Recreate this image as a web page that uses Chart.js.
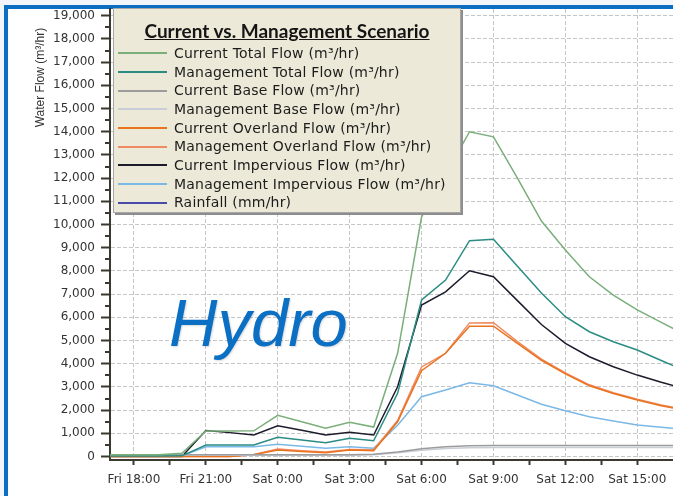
<!DOCTYPE html>
<html>
<head>
<meta charset="utf-8">
<script src="https://cdn.jsdelivr.net/npm/chart.js@4/dist/chart.umd.min.js"></script>
<style>
  html, body { margin:0; padding:0; width:673px; height:496px; overflow:hidden; background:#f2f6fa; }
  #frame { position:absolute; left:4px; top:5px; width:700px; height:520px;
           border-left:4px solid #0a6fc2; border-top:4px solid #0a6fc2; background:#ffffff; }
  #chart { position:absolute; left:0; top:0; }
  #legend { position:absolute; left:113px; top:8px; width:346px; height:203px;
            background:#ece9d8; border:1px solid #a6a6a6; box-shadow:2px 2px 0 #8e8e8e; }
  #ltitle { position:absolute; left:0; right:0; top:11px; text-align:center;
            font:bold 19px Lato, "DejaVu Sans", sans-serif; line-height:22px;
            text-decoration:underline; color:#151515; }
  #legendItems { position:absolute; left:4px; top:35px; }
  .row { display:flex; align-items:center; height:18.67px; }
  .sw { display:inline-block; width:49px; height:2px; margin-right:7px; }
  .tx { font:14px "DejaVu Sans", sans-serif; letter-spacing:0.2px; line-height:18.67px;
        color:#1c1c1c; white-space:nowrap; }
  #hydro { position:absolute; left:169px; top:289px; font:italic 67px "Liberation Sans", Arial, sans-serif;
           line-height:67px; color:#0b6fc4; text-shadow:1px 1px 2px rgba(0,0,0,0.15); }
</style>
</head>
<body>
<div id="frame"></div>
<canvas id="chart" width="673" height="496"></canvas>
<div id="legend"><div id="ltitle">Current vs. Management Scenario</div><div id="legendItems"></div></div>
<div id="hydro">Hydro</div>
<script>
// ---- data (hours measured from Friday 0:00) ----
const hours = [17,18,19,20,21,22,23,24,25,26,27,28,29,30,31,32,33,34,35,36,37,38,39,40,41];

const currentTotal        = [80,80,80,140,1100,1105,1110,1775,1495,1215,1474,1271,4450,10330,12150,14000,13780,12000,10150,8900,7750,6960,6320,5780,5250];
const managementTotal     = [20,20,20,30,496,496,500,827,711,595,784,681,2724,6745,7607,9303,9360,8200,7050,6025,5380,4950,4590,4140,3700];
const currentBase         = [80,80,80,80,80,80,80,80,80,80,80,100,200,330,420,460,470,470,470,470,470,470,470,470,470];
const managementBase      = [60,60,60,60,60,60,60,60,60,60,60,80,160,270,350,380,390,390,390,390,390,390,390,390,390];
const currentOverland     = [0,0,0,0,0,0,80,280,220,164,280,250,1500,3700,4450,5620,5620,4880,4150,3560,3050,2720,2440,2190,1990];
const managementOverland  = [0,0,0,0,0,0,90,320,250,190,300,290,1550,3860,4450,5760,5770,4950,4200,3600,3090,2750,2470,2220,2020];
const currentImpervious   = [0,0,0,0,1120,1030,927,1328,1130,927,1043,927,3009,6530,7100,8008,7750,6720,5690,4880,4300,3870,3510,3200,2920];
const managementImpervious= [20,20,20,20,422,422,422,525,440,353,422,353,1350,2578,2866,3181,3052,2650,2250,1974,1715,1530,1358,1260,1180];
const rainfall            = [];

const xMajorHours = [18,21,24,27,30,33,36,39];
const xMinorHours = [19.5,22.5,25.5,28.5,31.5,34.5,37.5];
const xTickLabels = ['Fri 18:00','Fri 21:00','Sat 0:00','Sat 3:00','Sat 6:00','Sat 9:00','Sat 12:00','Sat 15:00'];
const yTickValues = [0,1000,2000,3000,4000,5000,6000,7000,8000,9000,10000,11000,12000,13000,14000,15000,16000,17000,18000,19000];
const yMinorTicks = [500,1500,2500,3500,4500,5500,6500,7500,8500,9500,10500,11500,12500,13500,14500,15500,16500,17500,18500];
const yTitle = 'Water Flow (m³/hr)';

const toPoints = ys => ys.map((y, i) => ({ x: hours[i], y }));

const datasets = [
  { label:'Current Total Flow (m³/hr)',        data: toPoints(currentTotal),         borderColor:'#7aae7a' },
  { label:'Management Total Flow (m³/hr)',     data: toPoints(managementTotal),      borderColor:'#2b8c84' },
  { label:'Current Base Flow (m³/hr)',         data: toPoints(currentBase),          borderColor:'#9c9c9c' },
  { label:'Management Base Flow (m³/hr)',      data: toPoints(managementBase),       borderColor:'#c9cdd6' },
  { label:'Current Overland Flow (m³/hr)',     data: toPoints(currentOverland),      borderColor:'#e9731e' },
  { label:'Management Overland Flow (m³/hr)',  data: toPoints(managementOverland),   borderColor:'#ef8b62' },
  { label:'Current Impervious Flow (m³/hr)',   data: toPoints(currentImpervious),    borderColor:'#1b1b2b' },
  { label:'Management Impervious Flow (m³/hr)',data: toPoints(managementImpervious), borderColor:'#7ab9e6' },
  { label:'Rainfall (mm/hr)',                  data: toPoints(rainfall),             borderColor:'#4a4aa8' }
];

const AXIS = '#3b382f';
const GRID = '#c6c6c6';

const decor = {
  id: 'decor',
  afterDraw(chart) {
    const { ctx } = chart;
    const y = chart.scales.y;
    ctx.save();
    ctx.strokeStyle = AXIS; ctx.lineWidth = 2;
    yMinorTicks.forEach(v => {
      const py = Math.round(y.getPixelForValue(v));
      ctx.beginPath(); ctx.moveTo(y.right - 5, py); ctx.lineTo(y.right, py); ctx.stroke();
    });
    ctx.translate(41, 77.5);
    ctx.rotate(-Math.PI / 2);
    ctx.font = '12px "Liberation Sans", Arial, sans-serif';
    ctx.fillStyle = '#333333';
    ctx.textAlign = 'center'; ctx.textBaseline = 'middle';
    ctx.fillText(yTitle, 0, 0);
    ctx.restore();
  }
};

const htmlLegend = {
  id: 'htmlLegend',
  afterUpdate(chart) {
    const box = document.getElementById('legendItems');
    box.innerHTML = '';
    chart.data.datasets.forEach(ds => {
      const row = document.createElement('div'); row.className = 'row';
      const sw = document.createElement('span'); sw.className = 'sw'; sw.style.background = ds.borderColor;
      const tx = document.createElement('span'); tx.className = 'tx'; tx.textContent = ds.label;
      row.append(sw, tx); box.append(row);
    });
  }
};

new Chart(document.getElementById('chart'), {
  type: 'line',
  data: { datasets },
  options: {
    responsive: false,
    animation: false,
    layout: { padding: { top: 9, left: 0, right: 0, bottom: 0 } },
    elements: { point: { radius: 0 }, line: { borderWidth: 1.5, tension: 0 } },
    plugins: { legend: { display: false }, tooltip: { enabled: false } },
    scales: {
      x: {
        type: 'linear', min: 17, max: 40.49,
        afterBuildTicks: s => { s.ticks = xMajorHours.concat(xMinorHours).sort((a,b)=>a-b).map(v => ({ value: v })); },
        afterFit: s => { s.height = 36; s.paddingLeft = 0; s.paddingRight = 0; },
        ticks: {
          autoSkip: false, maxRotation: 0, padding: 8, color: '#333333',
          font: { family: 'DejaVu Sans', size: 12 },
          callback: v => { const i = xMajorHours.indexOf(v); return i >= 0 ? xTickLabels[i] : ''; }
        },
        grid: {
          color: c => (c.tick && xMajorHours.includes(c.tick.value)) ? GRID : 'rgba(0,0,0,0)',
          lineWidth: 1, tickLength: 5, tickWidth: 2, tickColor: AXIS
        },
        border: { display: true, color: AXIS, width: 2, dash: [4, 2] }
      },
      y: {
        min: -150, max: 19290,
        afterBuildTicks: s => { s.ticks = yTickValues.map(v => ({ value: v })); },
        afterFit: s => { s.width = 110; s.paddingTop = 0; s.paddingBottom = 0; },
        ticks: {
          padding: 6, color: '#333333',
          font: { family: 'DejaVu Sans', size: 12 },
          callback: v => v.toLocaleString('en-US')
        },
        grid: { color: GRID, lineWidth: 1, tickLength: 9, tickWidth: 2, tickColor: AXIS },
        border: { display: true, color: AXIS, width: 2, dash: [4, 2] }
      }
    }
  },
  plugins: [decor, htmlLegend]
});
</script>
</body>
</html>
